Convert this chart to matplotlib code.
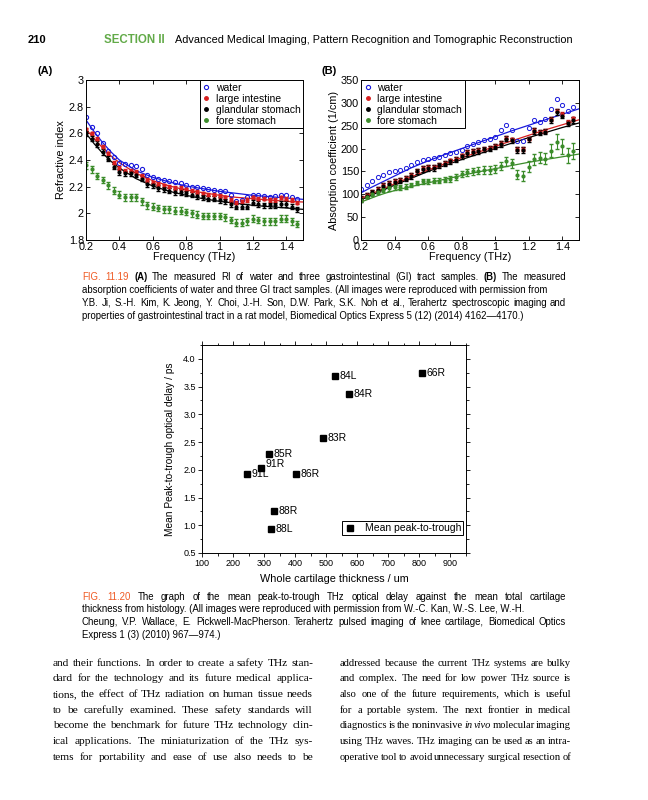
import matplotlib
matplotlib.use("Agg")
import matplotlib.pyplot as plt
from matplotlib.lines import Line2D
from matplotlib.ticker import MultipleLocator, FuncFormatter

W, H = 648, 800

# ---- Fig 11.19 data ----
freq = [0.200, 0.233, 0.267, 0.300, 0.333, 0.367, 0.400, 0.433, 0.467, 0.500,
        0.533, 0.567, 0.600, 0.633, 0.667, 0.700, 0.733, 0.767, 0.800, 0.833,
        0.867, 0.900, 0.933, 0.967, 1.000, 1.033, 1.067, 1.100, 1.133, 1.167,
        1.200, 1.233, 1.267, 1.300, 1.333, 1.367, 1.400, 1.433, 1.467]

ri_water = [2.72, 2.65, 2.60, 2.53, 2.47, 2.42, 2.38, 2.37, 2.36, 2.355,
            2.33, 2.29, 2.27, 2.26, 2.25, 2.245, 2.235, 2.23, 2.215, 2.20,
            2.195, 2.19, 2.18, 2.175, 2.17, 2.165, 2.14, 2.09, 2.10, 2.12,
            2.14, 2.135, 2.13, 2.12, 2.13, 2.14, 2.135, 2.12, 2.11]
ri_large = [2.63, 2.60, 2.56, 2.50, 2.45, 2.38, 2.34, 2.32, 2.32, 2.31,
            2.28, 2.25, 2.23, 2.22, 2.21, 2.20, 2.19, 2.19, 2.18, 2.17,
            2.16, 2.15, 2.14, 2.14, 2.13, 2.12, 2.10, 2.08, 2.09, 2.10,
            2.12, 2.11, 2.11, 2.10, 2.10, 2.12, 2.11, 2.10, 2.08]
ri_gland = [2.60, 2.56, 2.52, 2.46, 2.41, 2.35, 2.31, 2.30, 2.30, 2.29,
            2.26, 2.22, 2.21, 2.19, 2.18, 2.17, 2.16, 2.16, 2.15, 2.14,
            2.13, 2.12, 2.11, 2.11, 2.10, 2.09, 2.07, 2.05, 2.05, 2.05,
            2.08, 2.07, 2.06, 2.06, 2.06, 2.07, 2.07, 2.05, 2.03]
ri_fore = [2.36, 2.33, 2.28, 2.25, 2.21, 2.17, 2.14, 2.12, 2.12, 2.12,
           2.09, 2.06, 2.05, 2.04, 2.03, 2.03, 2.02, 2.02, 2.01, 2.00,
           1.99, 1.98, 1.98, 1.98, 1.98, 1.97, 1.95, 1.93, 1.93, 1.94,
           1.96, 1.95, 1.94, 1.94, 1.94, 1.96, 1.96, 1.94, 1.92]

fit_f = [0.2, 0.25, 0.3, 0.35, 0.4, 0.5, 0.6, 0.7, 0.8, 0.9, 1.0, 1.1, 1.2, 1.3, 1.4, 1.5]
ri_fit_water = [2.70, 2.61, 2.53, 2.46, 2.40, 2.32, 2.27, 2.235, 2.205, 2.185, 2.165, 2.15, 2.135, 2.125, 2.115, 2.105]
ri_fit_large = [2.63, 2.56, 2.49, 2.43, 2.38, 2.30, 2.245, 2.205, 2.175, 2.155, 2.135, 2.12, 2.11, 2.10, 2.09, 2.085]
ri_fit_gland = [2.60, 2.52, 2.45, 2.39, 2.34, 2.26, 2.205, 2.165, 2.135, 2.11, 2.09, 2.075, 2.06, 2.05, 2.04, 2.03]

ab_water = [112, 120, 128, 137, 142, 148, 152, 154, 158, 163,
            170, 175, 178, 180, 182, 186, 190, 192, 197, 205,
            210, 215, 218, 222, 225, 240, 251, 240, 217, 217,
            244, 262, 258, 265, 286, 308, 296, 282, 291]
ab_large = [92, 99, 106, 112, 120, 125, 129, 132, 136, 142,
            152, 157, 159, 160, 165, 169, 174, 178, 185, 192,
            194, 197, 200, 202, 206, 212, 224, 220, 199, 199,
            222, 240, 237, 239, 264, 283, 275, 258, 266]
ab_gland = [90, 97, 104, 110, 118, 123, 127, 130, 134, 140,
            150, 155, 157, 158, 163, 167, 172, 176, 183, 190,
            192, 195, 198, 200, 204, 210, 222, 218, 197, 197,
            220, 238, 235, 237, 262, 280, 272, 255, 263]
ab_fore = [87, 95, 100, 105, 110, 113, 115, 115, 117, 120,
           125, 128, 128, 130, 130, 132, 133, 138, 145, 148,
           150, 152, 153, 153, 155, 162, 172, 168, 143, 140,
           160, 177, 180, 178, 195, 215, 205, 185, 195]
ab_fore_err = [4, 4, 4, 4, 4, 5, 5, 5, 5, 5,
               5, 6, 6, 6, 6, 6, 7, 7, 7, 7,
               7, 7, 8, 8, 8, 8, 10, 10, 10, 10,
               12, 12, 12, 12, 14, 16, 16, 16, 18]
ab_fit_water = [103, 113, 122, 131, 140, 158, 173, 187, 200, 213, 226, 239, 251, 263, 275, 287]
ab_fit_large = [91, 99, 107, 115, 123, 138, 153, 167, 180, 192, 205, 217, 229, 241, 252, 263]
ab_fit_gland = [88, 96, 104, 112, 120, 135, 150, 163, 176, 188, 200, 212, 224, 235, 246, 256]
ab_fit_fore = [83, 90, 97, 103, 108, 117, 125, 133, 141, 149, 156, 163, 170, 176, 182, 188]

series_names = ["water", "large intestine", "glandular stomach", "fore stomach"]

# ---- Fig 11.20 data ----
thickness = [807, 529, 574, 490, 315, 289, 244, 404, 331, 323]
delay = [3.75, 3.70, 3.36, 2.58, 2.29, 2.03, 1.93, 1.93, 1.26, 0.94]
sample_ids = ["66R", "84L", "84R", "83R", "85R", "91R", "91L", "86R", "88R", "88L"]

BLUE = "#1a1adc"
RED = "#d81e1e"
GREEN = "#3b8c2a"
ORANGE = "#ef5a24"
HEAD_GREEN = "#62aa48"
SANS = "Liberation Sans"
SERIF = "Liberation Serif"

fig = plt.figure(figsize=(W / 100, H / 100), dpi=100)
fig.patch.set_facecolor("white")
renderer = fig.canvas.get_renderer()


def box(x0, y0, x1, y1):
    return [x0 / W, 1 - y1 / H, (x1 - x0) / W, (y1 - y0) / H]


def gfmt(v, p):
    return f"{v:g}"


def matlab_axes(ax):
    ax.tick_params(direction="in", length=3, width=0.6, top=True, right=True,
                   labelsize=7.8, pad=1.5)
    for s in ax.spines.values():
        s.set_linewidth(0.7)
    for lab in ax.get_xticklabels() + ax.get_yticklabels():
        lab.set_family(SANS)
    ax.xaxis.set_major_formatter(FuncFormatter(gfmt))
    ax.yaxis.set_major_formatter(FuncFormatter(gfmt))


def proxies():
    return [Line2D([], [], ls="none", marker="o", mfc="none", mec=BLUE, ms=3, mew=0.8),
            Line2D([], [], ls="none", marker=".", color=RED, ms=5),
            Line2D([], [], ls="none", marker=".", color="black", ms=5),
            Line2D([], [], ls="none", marker=".", color=GREEN, ms=5)]


def add_legend(ax, loc):
    leg = ax.legend(proxies(), series_names, loc=loc, fancybox=False, framealpha=1,
                    edgecolor="black", borderaxespad=0, borderpad=0.25,
                    labelspacing=0.1, handlelength=0.8, handletextpad=0.5,
                    prop={"family": SANS, "size": 7.5})
    leg.get_frame().set_linewidth(0.7)


# ---- panel A ----
axA = fig.add_axes(box(86, 80, 303, 240))
axA.plot(fit_f, ri_fit_water, color=BLUE, lw=0.9)
axA.plot(fit_f, ri_fit_large, color=RED, lw=0.9)
axA.plot(fit_f, ri_fit_gland, color="black", lw=0.9)
axA.plot(freq, ri_water, ls="none", marker="o", mfc="none", mec=BLUE, ms=3, mew=0.8)
axA.errorbar(freq, ri_large, yerr=0.012, fmt=".", color=RED, ms=4, capsize=1.5, elinewidth=0.8)
axA.errorbar(freq, ri_gland, yerr=0.02, fmt=".", color="black", ms=4, capsize=1.5, elinewidth=0.8)
axA.errorbar(freq, ri_fore, yerr=0.025, fmt=".", color=GREEN, ms=4, capsize=1.5, elinewidth=0.8)
axA.set_xlim(0.2, 1.5)
axA.set_ylim(1.8, 3.0)
axA.xaxis.set_major_locator(MultipleLocator(0.2))
axA.yaxis.set_major_locator(MultipleLocator(0.2))
axA.set_xlabel("Frequency (THz)", family=SANS, fontsize=7.8, labelpad=0)
axA.set_ylabel("Refractive index", family=SANS, fontsize=7.8, labelpad=2)
matlab_axes(axA)
add_legend(axA, "upper right")

# ---- panel B ----
axB = fig.add_axes(box(361, 80, 579, 240))
axB.plot(fit_f, ab_fit_water, color=BLUE, lw=0.9)
axB.plot(fit_f, ab_fit_large, color=RED, lw=0.9)
axB.plot(fit_f, ab_fit_gland, color="black", lw=0.9)
axB.plot(fit_f, ab_fit_fore, color=GREEN, lw=0.9)
axB.plot(freq, ab_water, ls="none", marker="o", mfc="none", mec=BLUE, ms=3, mew=0.7)
axB.errorbar(freq, ab_large, yerr=4, fmt=".", color=RED, ms=4, capsize=1.5, elinewidth=0.8)
axB.errorbar(freq, ab_gland, yerr=6, fmt=".", color="black", ms=4, capsize=1.5, elinewidth=0.8)
axB.errorbar(freq, ab_fore, yerr=ab_fore_err, fmt=".", color=GREEN, ms=4, capsize=1.5, elinewidth=0.8)
axB.set_xlim(0.2, 1.5)
axB.set_ylim(0, 350)
axB.xaxis.set_major_locator(MultipleLocator(0.2))
axB.yaxis.set_major_locator(MultipleLocator(50))
axB.set_xlabel("Frequency (THz)", family=SANS, fontsize=7.8, labelpad=0)
axB.set_ylabel("Absorption coefficient (1/cm)", family=SANS, fontsize=7.8, labelpad=1)
matlab_axes(axB)
add_legend(axB, "upper left")

fig.text(38 / W, 1 - 71 / H, "(A)", family=SANS, weight="bold", fontsize=8, va="center")
fig.text(321 / W, 1 - 71 / H, "(B)", family=SANS, weight="bold", fontsize=8, va="center")

# ---- Fig 11.20 scatter ----
axC = fig.add_axes(box(202, 345, 466, 553))
axC.plot(thickness, delay, ls="none", marker="s", color="black", ms=4.2,
         label="Mean peak-to-trough")
for xv, yv, name in zip(thickness, delay, sample_ids):
    dy = 3 if name == "91R" else 0
    axC.annotate(name, (xv, yv), xytext=(3.2, dy), textcoords="offset points",
                 va="center", ha="left", family=SANS, fontsize=7.5)
axC.set_xlim(100, 950)
axC.set_ylim(0.5, 4.25)
axC.xaxis.set_major_locator(MultipleLocator(100))
axC.xaxis.set_minor_locator(MultipleLocator(50))
axC.yaxis.set_major_locator(MultipleLocator(0.5))
axC.yaxis.set_minor_locator(MultipleLocator(0.25))
axC.yaxis.set_major_formatter(FuncFormatter(lambda v, p: f"{v:.1f}"))
axC.tick_params(which="both", direction="out", width=0.6, labelsize=6.5, pad=1.5)
axC.tick_params(which="major", length=3)
axC.tick_params(which="minor", length=1.8)
axC.tick_params(which="both", top=True, right=True)
for lab in axC.get_xticklabels() + axC.get_yticklabels():
    lab.set_family(SANS)
for s in axC.spines.values():
    s.set_linewidth(0.7)
axC.set_xlabel("Whole cartilage thickness / um", family=SANS, fontsize=7.8, labelpad=4)
axC.set_ylabel("Mean Peak-to-trough optical delay / ps", family=SANS, fontsize=7.3, labelpad=6)
legC = axC.legend(loc="lower right", bbox_to_anchor=(0.99, 0.085), fancybox=False,
                  framealpha=1, edgecolor="black", borderaxespad=0, borderpad=0.2,
                  handlelength=1.2, handletextpad=0.8, prop={"family": SANS, "size": 7.5})
legC.get_frame().set_linewidth(0.7)


# ---- page text ----
def style_of(word):
    if word[0] == "^":
        return {"color": ORANGE}, word[1:]
    if word[0] == "*":
        return {"weight": "bold"}, word[1:]
    if word[0] == "_":
        return {"style": "italic"}, word[1:]
    return {}, word


def text_width(s, size, family, **kw):
    t = fig.text(0, 0, s, fontsize=size, family=family, **kw)
    w = t.get_window_extent(renderer).width
    t.remove()
    return w


def space_width(size, family):
    return text_width("x x", size, family) - text_width("xx", size, family)


def caption_line(line, x0, y, size, family):
    # group consecutive words of one style into one text run
    runs = []
    for w in line.split(" "):
        kw, w = style_of(w)
        if runs and runs[-1][0] == kw:
            runs[-1][1].append(w)
        else:
            runs.append((kw, [w]))
    gap = space_width(size, family)
    x = x0
    for kw, ws in runs:
        s = " ".join(ws)
        t = fig.text(x / W, 1 - y / H, s, fontsize=size, family=family,
                     va="center", ha="left", **kw)
        x += t.get_window_extent(renderer).width + gap


def natural_width(line, size, family, space_frac):
    words = [style_of(w) for w in line.split(" ")]
    widths = [text_width(w, size, family, **kw) for kw, w in words]
    return sum(widths) + space_frac * space_width(size, family) * (len(words) - 1)


def justified_line(line, x0, x1, y, size, family):
    words = [style_of(w) for w in line.split(" ")]
    widths = [text_width(w, size, family, **kw) for kw, w in words]
    gap = (x1 - x0 - sum(widths)) / (len(words) - 1)
    x = x0
    for (kw, w), wd in zip(words, widths):
        fig.text(x / W, 1 - y / H, w, fontsize=size, family=family,
                 va="center", ha="left", **kw)
        x += wd + gap


def column(lines, x0, x1, y0, step, size, family):
    # one font size for the whole column, small enough for its tightest line
    widest = max(natural_width(l, size, family, 0.65) for l in lines)
    if widest > x1 - x0:
        size = size * (x1 - x0) / widest
    for i, line in enumerate(lines):
        justified_line(line, x0, x1, y0 + step * i, size, family)


fig.text(28 / W, 1 - 40 / H, "210", family=SANS, weight="bold", fontsize=8, va="center")
fig.text(104 / W, 1 - 40 / H, "SECTION II", family=SANS, weight="bold", fontsize=8.3,
         color=HEAD_GREEN, va="center")
fig.text(175 / W, 1 - 40 / H,
         "Advanced Medical Imaging, Pattern Recognition and Tomographic Reconstruction",
         family=SANS, fontsize=7.8, va="center")

cap1 = ["^FIG. ^11.19 *(A) The measured RI of water and three gastrointestinal (GI) tract samples. *(B) The measured",
        "absorption coefficients of water and three GI tract samples. (All images were reproduced with permission from",
        "Y.B. Ji, S.-H. Kim, K. Jeong, Y. Choi, J.-H. Son, D.W. Park, S.K. Noh et al., Terahertz spectroscopic imaging and",
        "properties of gastrointestinal tract in a rat model, Biomedical Optics Express 5 (12) (2014) 4162\u20144170.)"]
cap2 = ["^FIG. ^11.20 The graph of the mean peak-to-trough THz optical delay against the mean total cartilage",
        "thickness from histology. (All images were reproduced with permission from W.-C. Kan, W.-S. Lee, W.-H.",
        "Cheung, V.P. Wallace, E. Pickwell-MacPherson. Terahertz pulsed imaging of knee cartilage, Biomedical Optics",
        "Express 1 (3) (2010) 967\u2014974.)"]
for cap, y0, step in [(cap1, 277, 13), (cap2, 597, 12.5)]:
    for i, line in enumerate(cap):
        if i in (0, 2):
            justified_line(line, 82, 566, y0 + step * i, 6.9, SANS)
        else:
            caption_line(line, 82, y0 + step * i, 6.9, SANS)

body_left = ["and their functions. In order to create a safety THz stan-",
             "dard for the technology and its future medical applica-",
             "tions, the effect of THz radiation on human tissue needs",
             "to be carefully examined. These safety standards will",
             "become the benchmark for future THz technology clin-",
             "ical applications. The miniaturization of the THz sys-",
             "tems for portability and ease of use also needs to be"]
body_right = ["addressed because the current THz systems are bulky",
              "and complex. The need for low power THz source is",
              "also one of the future requirements, which is useful",
              "for a portable system. The next frontier in medical",
              "diagnostics is the noninvasive _in _vivo molecular imaging",
              "using THz waves. THz imaging can be used as an intra-",
              "operative tool to avoid unnecessary surgical resection of"]
column(body_left, 53, 313, 663, 15.7, 8.2, SERIF)
column(body_right, 340, 571, 663, 15.7, 8.2, SERIF)

fig.savefig("out.png", dpi=100, facecolor="white")
